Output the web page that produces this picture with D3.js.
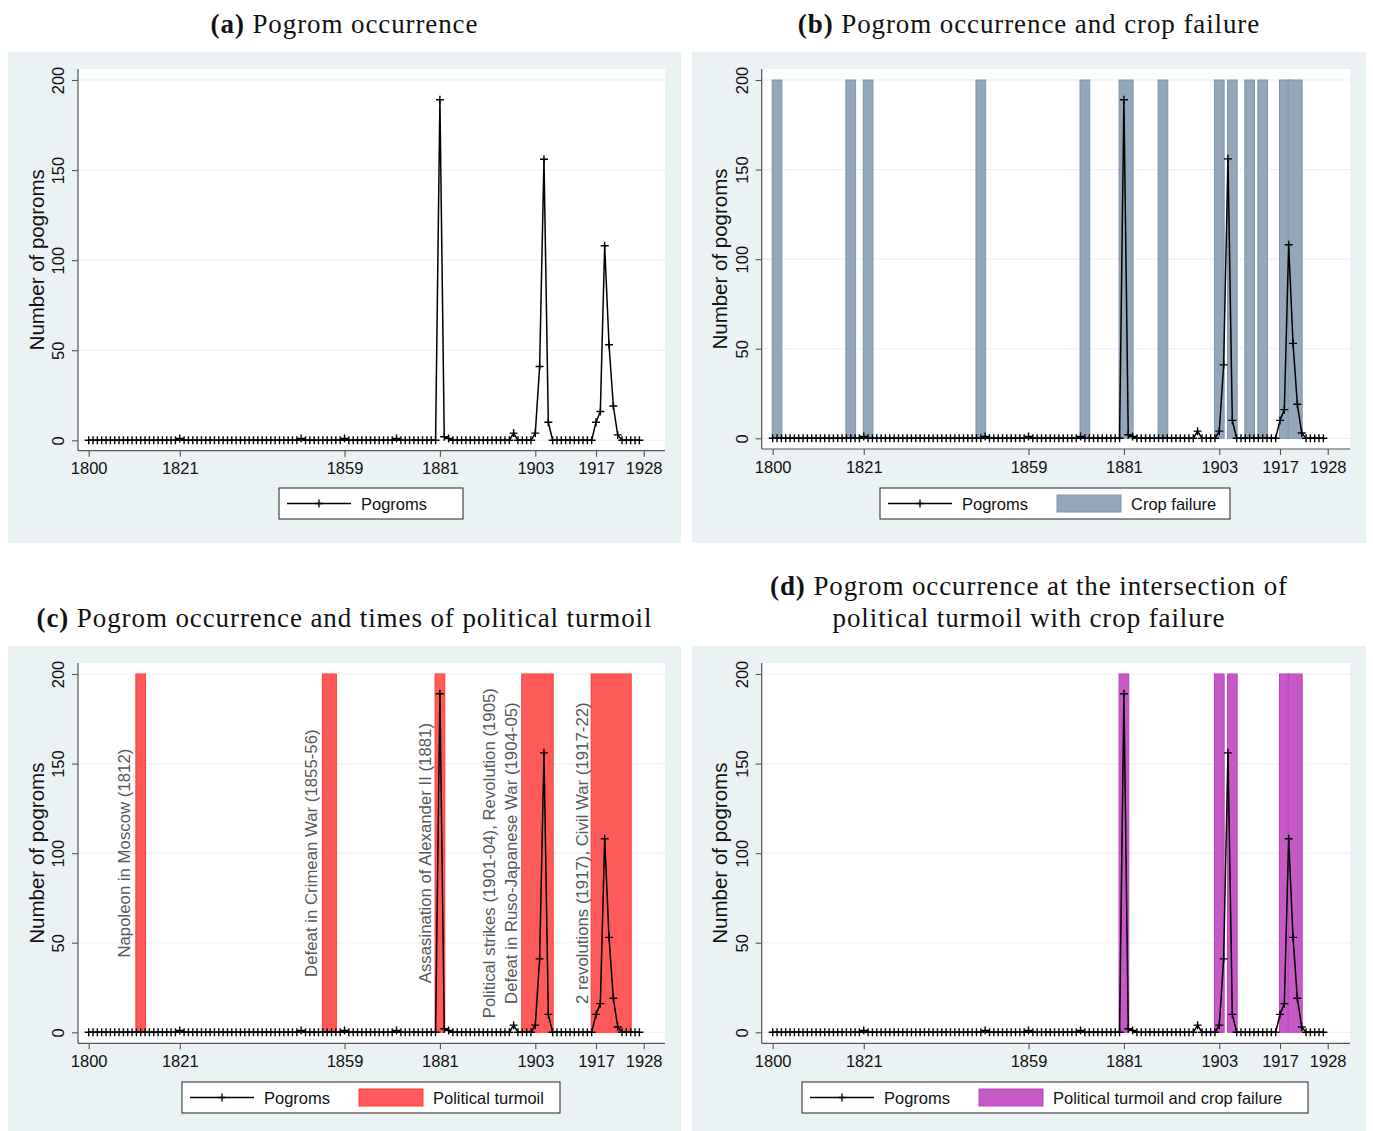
<!DOCTYPE html>
<html><head><meta charset="utf-8">
<script src="https://cdn.jsdelivr.net/npm/d3@7"></script>
<style>body{margin:0;background:#fff} svg{display:block}</style>
</head><body>
<svg id="chart" width="1373" height="1131"></svg>
<script>
// ---------------- DATA ----------------
const years = d3.range(1800, 1928);           // 1800 ... 1927, one point per year
const pogroms = [
  0,0,0,0,0,0,0,0,0,0,        // 1800s
  0,0,0,0,0,0,0,0,0,0,        // 1810s
  0,1,0,0,0,0,0,0,0,0,        // 1820s
  0,0,0,0,0,0,0,0,0,0,        // 1830s
  0,0,0,0,0,0,0,0,0,1,        // 1840s
  0,0,0,0,0,0,0,0,0,1,        // 1850s
  0,0,0,0,0,0,0,0,0,0,        // 1860s
  0,1,0,0,0,0,0,0,0,0,        // 1870s
  0,189,2,1,0,0,0,0,0,0,      // 1880s
  0,0,0,0,0,0,0,0,4,0,        // 1890s
  0,0,0,4,41,156,10,0,0,0,    // 1900s
  0,0,0,0,0,0,0,10,16,108,    // 1910s
  53,19,3,0,0,0,0,0          // 1920-1927
];
const cropFailureYears = [1801,1818,1822,1848,1872,1881,1882,1890,1903,1906,1910,1913,1918,1920,1921];
const turmoilYears = [1812,1855,1856,1881,1901,1902,1903,1904,1905,1906,1917,1918,1919,1920,1921,1922,1923,1924];
const turmoilCropYears = [1881,1903,1906,1918,1920,1921];
const xTickValues = [1800,1821,1859,1881,1903,1917,1928];
const yTickValues = [0,50,100,150,200];
const barTop = 200;
const annotationLabels = [
  "Napoleon in Moscow (1812)",
  "Defeat in Crimean War (1855-56)",
  "Assasination of Alexander II (1881)",
  "Political strikes (1901-04), Revolution (1905)",
  "Defeat in Ruso-Japanese War (1904-05)",
  "2 revolutions (1917), Civil War (1917-22)"
];
const annotationX = [1808.3, 1851.4, 1877.6, 1892.5, 1897.5, 1913.8];
const annotationY = [100,100,100,100,100,100];
const titleTags = ["(a)", "(b)", "(c)", "(d)"];
const titleLines = [
  ["Pogrom occurrence"],
  ["Pogrom occurrence and crop failure"],
  ["Pogrom occurrence and times of political turmoil"],
  ["Pogrom occurrence at the intersection of", "political turmoil with crop failure"]
];
const yAxisTitle = "Number of pogroms";
const seriesLabel = "Pogroms";
const barLabels = [null, "Crop failure", "Political turmoil", "Political turmoil and crop failure"];
const barYearSets = [null, cropFailureYears, turmoilYears, turmoilCropYears];

// ---------------- STYLE / LAYOUT ----------------
const SANS = "'Liberation Sans', Arial, Helvetica, sans-serif";
const SERIF = "'Liberation Serif', 'Times New Roman', serif";
const BG = "#eaf2f3";
const barStyles = [null,
  {fill:"#94a7ba", stroke:"#8196ab"},
  {fill:"#ff5a5a", stroke:"#ff3a3a"},
  {fill:"#c759c7", stroke:"#b844b8"}];
const barHalf = 1.12; // half width of a year bar, in years

const layouts = [
  {bg:[8,52,673,491],  axL:78,    axR:665,  xr:[88.7,643.7],   yr:[440.3,80],  top:69,  axB:450.7, legend:[279,488,184,31],  titleY:[33]},
  {bg:[692,52,674,491],axL:761.7, axR:1350, xr:[772.7,1327.7], yr:[438.3,80],  top:69,  axB:449,   legend:[880,488,350,31],  titleY:[33]},
  {bg:[8,646,673,485], axL:78,    axR:665,  xr:[88.7,643.7],   yr:[1032.3,674],top:663, axB:1043.3,legend:[182,1082,378,31], titleY:[627]},
  {bg:[692,646,674,485],axL:761.7,axR:1350, xr:[772.7,1327.7], yr:[1032.3,674],top:663, axB:1043.3,legend:[802,1082,506,31], titleY:[595,627]}
];

const svg = d3.select("#chart");
const series = years.map((y,i)=>({year:y, value:pogroms[i]}));
const marker = "M-4,0H4M0,-4V4";

function runs(list){
  const s = [...list].sort((a,b)=>a-b); const out=[];
  s.forEach(v=>{ const last=out[out.length-1]; if(last && v===last[1]+1) last[1]=v; else out.push([v,v]); });
  return out;
}

layouts.forEach((L,pi)=>{
  const g = svg.append("g");
  const [bx,by,bw,bh] = L.bg;
  g.append("rect").attr("x",bx).attr("y",by).attr("width",bw).attr("height",bh).attr("fill",BG);
  g.append("rect").attr("x",L.axL).attr("y",L.top).attr("width",L.axR-L.axL).attr("height",L.axB-L.top).attr("fill","#fff");

  const x = d3.scaleLinear().domain([1800,1928]).range(L.xr);
  const y = d3.scaleLinear().domain([0,200]).range(L.yr);

  // title
  const cx = bx + bw/2;
  titleLines[pi].forEach((line,li)=>{
    const t = g.append("text").attr("x",cx).attr("y",L.titleY[li]).attr("text-anchor","middle")
      .attr("font-family",SERIF).attr("font-size",27).attr("letter-spacing",0.9).attr("fill","#111");
    if(li===0){ t.append("tspan").attr("font-weight","bold").text(titleTags[pi]); t.append("tspan").text(" "+line); }
    else t.text(line);
  });

  // grid
  g.append("g").selectAll("line").data(yTickValues).join("line")
    .attr("x1",L.axL).attr("x2",L.axR).attr("y1",d=>y(d)).attr("y2",d=>y(d))
    .attr("stroke",BG).attr("stroke-width",1.2);

  // bars
  if(barYearSets[pi]){
    const st = barStyles[pi];
    g.append("g").selectAll("rect").data(runs(barYearSets[pi])).join("rect")
      .attr("x",d=>x(d[0]-barHalf)).attr("width",d=>x(d[1]+barHalf)-x(d[0]-barHalf))
      .attr("y",y(barTop)).attr("height",y(0)-y(barTop))
      .attr("fill",st.fill).attr("stroke",st.stroke).attr("stroke-width",1);
  }

  // annotations (panel c)
  if(pi===2){
    g.append("g").selectAll("text").data(annotationLabels).join("text")
      .attr("transform",(d,i)=>`translate(${x(annotationX[i])},${y(annotationY[i])}) rotate(-90)`)
      .attr("text-anchor","middle").attr("dominant-baseline","central")
      .attr("font-family",SANS).attr("font-size",16.8).attr("fill","#595959").text(d=>d);
  }

  // line + markers
  g.append("path").datum(series).attr("fill","none").attr("stroke","#000").attr("stroke-width",1.5)
    .attr("stroke-linejoin","round")
    .attr("d", d3.line().x(d=>x(d.year)).y(d=>y(d.value)));
  g.append("g").selectAll("path").data(series).join("path")
    .attr("transform",d=>`translate(${x(d.year)},${y(d.value)})`).attr("d",marker)
    .attr("stroke","#000").attr("stroke-width",1.4).attr("fill","none");

  // axes
  const axCol = "#555";
  g.append("line").attr("x1",L.axL).attr("x2",L.axL).attr("y1",L.top).attr("y2",L.axB).attr("stroke",axCol).attr("stroke-width",1.2);
  g.append("line").attr("x1",L.axL).attr("x2",L.axR).attr("y1",L.axB).attr("y2",L.axB).attr("stroke",axCol).attr("stroke-width",1.2);
  const xa = g.append("g").attr("transform",`translate(0,${L.axB})`)
    .call(d3.axisBottom(x).tickValues(xTickValues).tickFormat(d3.format("d")).tickSize(6).tickPadding(6));
  xa.select(".domain").remove();
  xa.selectAll("line").attr("stroke",axCol).attr("stroke-width",1.1);
  xa.selectAll("text").attr("font-family",SANS).attr("font-size",16.5).attr("fill","#111");
  const ya = g.append("g").attr("transform",`translate(${L.axL},0)`)
    .call(d3.axisLeft(y).tickValues(yTickValues).tickSize(6).tickPadding(0));
  ya.select(".domain").remove();
  ya.selectAll("line").attr("stroke",axCol).attr("stroke-width",1.1);
  ya.selectAll(".tick text").attr("font-family",SANS).attr("font-size",16.5).attr("fill","#111")
    .attr("x",0).attr("y",0).attr("dy",null)
    .attr("text-anchor","middle").attr("dominant-baseline","central")
    .attr("transform","translate(-20,0) rotate(-90)");

  g.append("text").attr("transform",`translate(${L.axL-42},${(L.top+L.axB)/2}) rotate(-90)`)
    .attr("text-anchor","middle").attr("dominant-baseline","central")
    .attr("font-family",SANS).attr("font-size",20.5).attr("fill","#111").text(yAxisTitle);

  // legend
  const [lx,ly,lw,lh] = L.legend;
  const lg = g.append("g");
  lg.append("rect").attr("x",lx).attr("y",ly).attr("width",lw).attr("height",lh).attr("fill","#fff").attr("stroke","#222").attr("stroke-width",1);
  const cy = ly+lh/2;
  const items = [{type:"line",label:seriesLabel}];
  if(barLabels[pi]) items.push({type:"bar",label:barLabels[pi]});
  items.forEach((it,i)=>{
    const kx = lx + 8 + i*169;
    if(it.type==="line"){
      lg.append("line").attr("x1",kx).attr("x2",kx+64).attr("y1",cy).attr("y2",cy).attr("stroke","#000").attr("stroke-width",1.4);
      lg.append("path").attr("transform",`translate(${kx+32},${cy})`).attr("d",marker).attr("stroke","#000").attr("stroke-width",1.3);
    } else {
      const st = barStyles[pi];
      lg.append("rect").attr("x",kx).attr("y",cy-8.5).attr("width",64).attr("height",17).attr("fill",st.fill).attr("stroke",st.stroke);
    }
    lg.append("text").attr("x",kx+74).attr("y",cy).attr("dominant-baseline","central")
      .attr("font-family",SANS).attr("font-size",16.5).attr("fill","#111").text(it.label);
  });
});
</script>
</body></html>
